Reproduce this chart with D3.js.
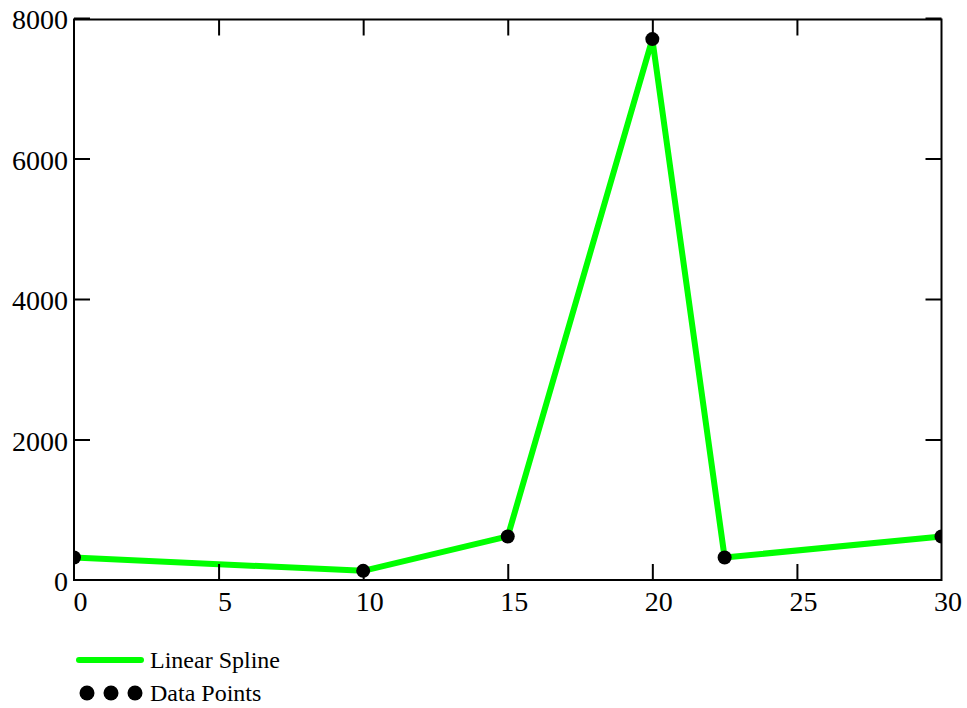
<!DOCTYPE html>
<html>
<head>
<meta charset="utf-8">
<script src="https://cdn.jsdelivr.net/npm/d3@7"></script>
<style>
  body { margin: 0; background: #fff; }
  svg text { font-family: "Liberation Serif", "Times New Roman", serif; fill: #000; }
</style>
</head>
<body>
<svg id="chart" width="967" height="708"></svg>
<script>
// data
const xValues = [0, 10, 15, 20, 22.5, 30];
const yValues = [320, 130, 620, 7700, 320, 620];
const xTicks = [0, 5, 10, 15, 20, 25, 30];
const yTicks = [0, 2000, 4000, 6000, 8000];
const legendLabels = ["Linear Spline", "Data Points"];

// plot box edges
const plotLeft = 74, plotRight = 941.5, plotTop = 18, plotBottom = 580;

const svg = d3.select("#chart");

// clip marks to the plot box
svg.append("defs").append("clipPath")
  .attr("id", "plotClip")
  .append("rect")
  .attr("x", plotLeft)
  .attr("y", plotTop)
  .attr("width", plotRight - plotLeft)
  .attr("height", plotBottom - plotTop);

// scales
const xScale = d3.scaleLinear().domain([0, 30]).range([plotLeft, plotRight]);
const yScale = d3.scaleLinear().domain([0, 8000]).range([plotBottom, plotTop]);

const points = xValues.map((x, i) => ({x: x, y: yValues[i]}));

const marks = svg.append("g").attr("clip-path", "url(#plotClip)");

// the line
const line = d3.line().x(d => xScale(d.x)).y(d => yScale(d.y));

marks.append("path")
  .datum(points)
  .attr("d", line)
  .attr("fill", "none")
  .attr("stroke", "#00ff00")
  .attr("stroke-width", 6)
  .attr("stroke-linejoin", "round");

// data points
marks.selectAll("circle.pt")
  .data(points)
  .enter()
  .append("circle")
  .attr("class", "pt")
  .attr("cx", d => xScale(d.x))
  .attr("cy", d => yScale(d.y))
  .attr("r", 7)
  .attr("fill", "#000");

// frame
svg.append("rect")
  .attr("x", plotLeft)
  .attr("y", plotTop + 1.5)
  .attr("width", plotRight - plotLeft)
  .attr("height", plotBottom - plotTop - 1.5)
  .attr("fill", "none")
  .attr("stroke", "#000")
  .attr("stroke-width", 2);

// bottom axis
const xAxis = d3.axisBottom(xScale).tickValues(xTicks).tickSizeInner(-16).tickSizeOuter(0)
  .tickPadding(25).tickFormat(d3.format("d"));
const gx = svg.append("g")
  .attr("transform", `translate(0,${plotBottom})`)
  .call(xAxis);
gx.select(".domain").remove();
gx.selectAll(".tick line").attr("stroke", "#000").attr("stroke-width", 2)
  .filter(d => d === 0 || d === 30).remove();
gx.selectAll(".tick text")
  .attr("font-size", 28)
  .attr("dx", 6)
  .attr("dy", "0.2em");

// top ticks
const xTop = d3.axisTop(xScale).tickValues(xTicks.filter(d => d > 0 && d < 30))
  .tickSizeInner(-16).tickSizeOuter(0).tickFormat("");
const gxt = svg.append("g")
  .attr("transform", `translate(0,${plotTop + 1.5})`)
  .call(xTop);
gxt.select(".domain").remove();
gxt.selectAll(".tick line").attr("stroke", "#000").attr("stroke-width", 2);

// left axis
const yAxis = d3.axisLeft(yScale).tickValues(yTicks).tickSizeInner(-16).tickSizeOuter(0)
  .tickPadding(6).tickFormat(d3.format("d"));
const gy = svg.append("g")
  .attr("transform", `translate(${plotLeft},0)`)
  .call(yAxis);
gy.select(".domain").remove();
gy.selectAll(".tick line").attr("stroke", "#000").attr("stroke-width", 2)
  .filter(d => d === 0).remove();
gy.selectAll(".tick text")
  .attr("font-size", 28)
  .attr("dy", "0.38em");

// right ticks
const yRight = d3.axisRight(yScale).tickValues(yTicks.filter(d => d > 0))
  .tickSizeInner(-16).tickSizeOuter(0).tickFormat("");
const gyr = svg.append("g")
  .attr("transform", `translate(${plotRight},0)`)
  .call(yRight);
gyr.select(".domain").remove();
gyr.selectAll(".tick line").attr("stroke", "#000").attr("stroke-width", 2);

// legend
const legend = svg.append("g");

legend.append("line")
  .attr("x1", 79).attr("x2", 141)
  .attr("y1", 660).attr("y2", 660)
  .attr("stroke", "#00ff00")
  .attr("stroke-width", 6)
  .attr("stroke-linecap", "round");

legend.selectAll("circle")
  .data([87, 111, 135])
  .enter()
  .append("circle")
  .attr("cx", d => d)
  .attr("cy", 693)
  .attr("r", 7.5)
  .attr("fill", "#000");

legend.selectAll("text")
  .data(legendLabels)
  .enter()
  .append("text")
  .attr("x", 150)
  .attr("y", (d, i) => 668 + i * 33)
  .attr("font-size", 24)
  .text(d => d);
</script>
</body>
</html>
